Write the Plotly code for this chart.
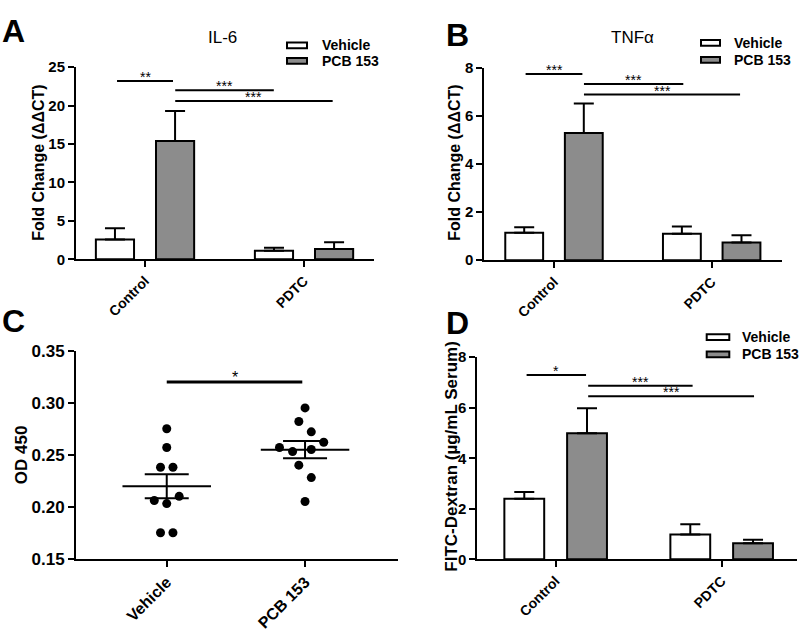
import plotly.graph_objects as go
import numpy as np

W, H = 800, 634
FONT = "Liberation Sans, Arial, sans-serif"

# ---------------- data ----------------
groups = ["Control", "PDTC"]
series = ["Vehicle", "PCB 153"]

il6_vehicle = [2.56, 1.10]
il6_vehicle_err = [1.48, 0.40]
il6_pcb = [15.4, 1.35]
il6_pcb_err = [3.9, 0.85]

tnf_vehicle = [1.14, 1.10]
tnf_vehicle_err = [0.23, 0.31]
tnf_pcb = [5.30, 0.74]
tnf_pcb_err = [1.23, 0.30]

fitc_vehicle = [2.40, 0.98]
fitc_vehicle_err = [0.26, 0.41]
fitc_pcb = [4.99, 0.64]
fitc_pcb_err = [0.99, 0.13]

od_groups = ["Vehicle", "PCB 153"]
od_vehicle = [0.275, 0.257, 0.238, 0.238, 0.210, 0.206, 0.203, 0.175, 0.175]
od_vehicle_jitter = [0, 0, -0.045, 0.045, 0.09, -0.09, 0, -0.045, 0.045]
od_pcb = [0.295, 0.282, 0.272, 0.262, 0.257, 0.253, 0.255, 0.240, 0.228, 0.205]
od_pcb_jitter = [0, -0.045, 0.045, 0.135, -0.185, -0.09, 0.045, -0.045, 0.045, 0]

# significance brackets: (start, end, level, label)
il6_sig = [(-0.176, 0.176, 23.2, "**"), (0.19, 0.81, 22.0, "***"), (0.19, 1.18, 20.6, "***")]
tnf_sig = [(-0.18, 0.18, 7.76, "***"), (0.19, 0.82, 7.34, "***"), (0.19, 1.18, 6.9, "***")]
fitc_sig = [(-0.175, 0.183, 7.30, "*"), (0.196, 0.825, 6.87, "***"), (0.196, 1.195, 6.46, "***")]
od_sig = [(0.0, 0.98, 0.32, "*")]

# ---------------- helpers ----------------
def px(x):
    return x / W

def py(y):
    return 1 - y / H

GRAY = "#8c8c8c"

fig = go.Figure()

def add_bars(vals_v, err_v, vals_p, err_p, xa, ya):
    for name, vals, err, color in [("Vehicle", vals_v, err_v, "white"),
                                    ("PCB 153", vals_p, err_p, GRAY)]:
        fig.add_trace(go.Bar(
            x=groups, y=vals, name=name, xaxis=xa, yaxis=ya, showlegend=False,
            marker=dict(color=color, line=dict(color="black", width=2)),
            error_y=dict(type="data", array=err, arrayminus=[0] * len(err),
                         symmetric=False, color="black", thickness=2, width=10),
        ))

add_bars(il6_vehicle, il6_vehicle_err, il6_pcb, il6_pcb_err, "x", "y")
add_bars(tnf_vehicle, tnf_vehicle_err, tnf_pcb, tnf_pcb_err, "x2", "y2")
add_bars(fitc_vehicle, fitc_vehicle_err, fitc_pcb, fitc_pcb_err, "x4", "y4")

# Panel C scatter
for gi, (vals, jit) in enumerate([(od_vehicle, od_vehicle_jitter), (od_pcb, od_pcb_jitter)]):
    arr = np.array(vals)
    m = arr.mean()
    sem = arr.std(ddof=1) / np.sqrt(len(arr))
    fig.add_trace(go.Scatter(
        x=[gi + j for j in jit], y=vals, mode="markers", xaxis="x3", yaxis="y3",
        marker=dict(color="black", size=9), showlegend=False))
    fig.add_trace(go.Scatter(
        x=[gi - 0.32, gi + 0.32], y=[m, m], mode="lines", xaxis="x3", yaxis="y3",
        line=dict(color="black", width=2), showlegend=False))
    fig.add_trace(go.Scatter(
        x=[gi], y=[m], mode="markers", xaxis="x3", yaxis="y3",
        marker=dict(size=1, color="rgba(0,0,0,0)"), showlegend=False,
        error_y=dict(type="data", array=[sem], color="black", thickness=2, width=22)))

axis_common = dict(showline=True, linecolor="black", linewidth=2, ticks="outside",
                   ticklen=6, tickwidth=2, tickcolor="black", showgrid=False,
                   zeroline=False, mirror=False)

layout = dict(
    width=W, height=H, margin=dict(l=0, r=0, t=0, b=0),
    paper_bgcolor="white", plot_bgcolor="white",
    barmode="group", bargap=0.244, bargroupgap=0.365,
    font=dict(family=FONT, color="black"),
    showlegend=False,
)

# Panel A
layout["xaxis"] = dict(axis_common, domain=[px(76), px(374)], anchor="y",
                       range=[-0.434, 1.44], tickangle=-45,
                       tickfont=dict(size=14, weight="bold"))
layout["yaxis"] = dict(axis_common, domain=[py(258), py(60)], anchor="x",
                       range=[0, 25], tickvals=[0, 5, 10, 15, 20, 25],
                       tickfont=dict(size=15, weight="bold"))
# Panel B
layout["xaxis2"] = dict(axis_common, domain=[px(484.3), px(781.7)], anchor="y2",
                        range=[-0.442, 1.444], tickangle=-45,
                        tickfont=dict(size=14, weight="bold"))
layout["yaxis2"] = dict(axis_common, domain=[py(259), py(61)], anchor="x2",
                        range=[0, 8], tickvals=[0, 2, 4, 6, 8],
                        tickfont=dict(size=15, weight="bold"))
# Panel C
layout["xaxis3"] = dict(axis_common, domain=[px(76), px(398)], anchor="y3",
                        range=[-0.656, 1.672], tickvals=[0, 1], ticktext=od_groups,
                        tickangle=-45, tickfont=dict(size=16, weight="bold"))
layout["yaxis3"] = dict(axis_common, domain=[py(566.7), py(352.3)], anchor="x3",
                        range=[0.15, 0.35], tickvals=[0.15, 0.20, 0.25, 0.30, 0.35],
                        tickformat=".2f", tickfont=dict(size=17, weight="bold"))
# Panel D
layout["xaxis4"] = dict(axis_common, domain=[px(477.3), px(796.7)], anchor="y4",
                        range=[-0.472, 1.452], tickangle=-45,
                        tickfont=dict(size=14, weight="bold"))
layout["yaxis4"] = dict(axis_common, domain=[py(567.3), py(359)], anchor="x4",
                        range=[0, 8], tickvals=[0, 2, 4, 6, 8],
                        tickfont=dict(size=15, weight="bold"))

fig.update_layout(**layout)

shapes = []
annotations = []

# significance brackets
for sig, xa, ya, fs, lw in [(il6_sig, "x", "y", 14, 2), (tnf_sig, "x2", "y2", 14, 2),
                            (fitc_sig, "x4", "y4", 14, 2), (od_sig, "x3", "y3", 16, 3)]:
    for x0, x1, yv, lab in sig:
        shapes.append(dict(type="line", xref=xa, yref=ya, x0=x0, x1=x1, y0=yv, y1=yv,
                           line=dict(color="black", width=lw)))
        annotations.append(dict(xref=xa, yref=ya, x=(x0 + x1) / 2, y=yv, text=lab,
                                showarrow=False, yanchor="bottom", yshift=-6,
                                font=dict(size=fs, color="black")))

# legends (A, B, D)
for bx0, bx1, yc1, yc2, tx in [(287, 307, 37.5, 53.5, 320), (701, 720, 35, 52.5, 731.7),
                               (706.7, 729.3, 338.3, 356, 740)]:
    for yc, color, lab in [(yc1, "white", "Vehicle"), (yc2, GRAY, "PCB 153")]:
        shapes.append(dict(type="rect", xref="paper", yref="paper",
                           x0=px(bx0), x1=px(bx1), y0=py(yc + 3), y1=py(yc - 3),
                           fillcolor=color, line=dict(color="black", width=2)))
        annotations.append(dict(xref="paper", yref="paper", x=px(tx), y=py(yc),
                                text=lab, showarrow=False, xanchor="left", yanchor="middle",
                                font=dict(size=14, weight="bold", color="black")))

# titles
annotations.append(dict(xref="paper", yref="paper", x=px(222), y=py(29), text="IL-6",
                        showarrow=False, xanchor="center", yanchor="middle",
                        font=dict(size=17, color="black")))
annotations.append(dict(xref="paper", yref="paper", x=px(632), y=py(29), text="TNFα",
                        showarrow=False, xanchor="center", yanchor="middle",
                        font=dict(size=17, color="black")))

# y-axis titles
for xc, yc, txt, fs in [(39, 158.5, "Fold Change (ΔΔCT)", 16), (455, 158.5, "Fold Change (ΔΔCT)", 16),
                        (21, 460, "OD 450", 17), (452, 460.5, "FITC-Dextran (µg/mL Serum)", 17)]:
    annotations.append(dict(xref="paper", yref="paper", x=px(xc), y=py(yc), text=txt,
                            showarrow=False, textangle=-90, xanchor="center", yanchor="middle",
                            font=dict(size=fs, weight="bold", color="black")))

# panel letters
for lx, ly, lab in [(0, 2, "A"), (444, 6, "B"), (0, 301, "C"), (444, 303, "D")]:
    annotations.append(dict(xref="paper", yref="paper", x=px(lx), y=py(ly), text=lab,
                            showarrow=False, xanchor="left", yanchor="top",
                            font=dict(size=32, weight="bold", color="black")))

fig.update_layout(shapes=shapes, annotations=annotations)
fig.write_html("out.html", config={"displayModeBar": False},
               post_script="document.body.style.margin='0';document.body.style.overflow='hidden';")
